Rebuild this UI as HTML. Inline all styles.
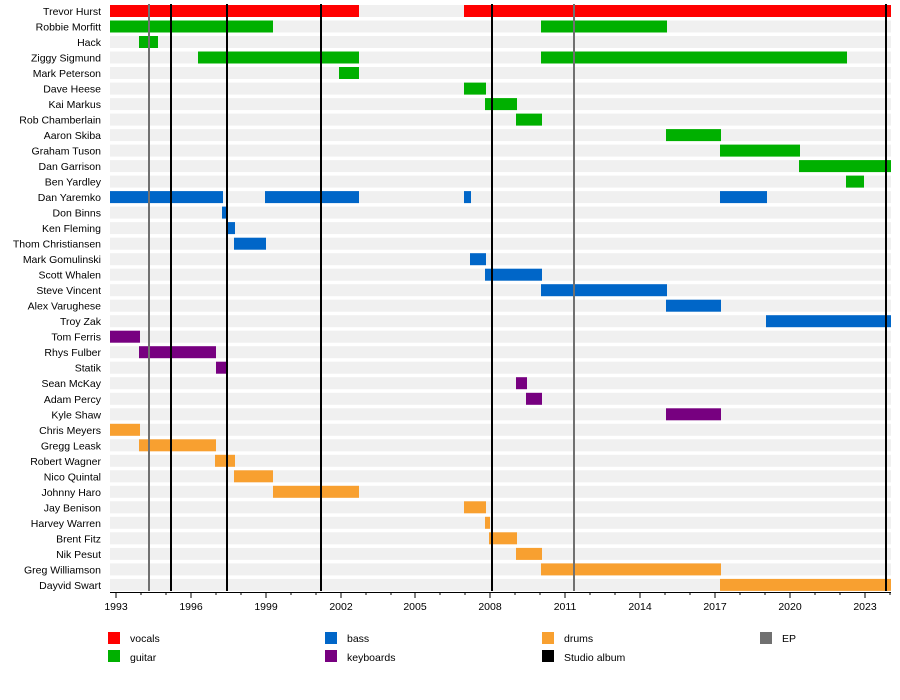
<!DOCTYPE html>
<html><head><meta charset="utf-8"><style>
body{margin:0;background:#fff}
svg{display:block;font-family:"Liberation Sans",Arial,sans-serif}
.l{font-size:10.5px;text-anchor:end;fill:#000}
.s{fill:#f0f0f0}
.v{fill:#ff0000}.g{fill:#00b000}.b{fill:#0066c8}.k{fill:#770080}.d{fill:#f8a030}
</style></head><body>
<svg width="900" height="700" viewBox="0 0 900 700">
<g id="rows">
<g transform="translate(0,11)"><rect class="s" x="110" y="-6" width="781" height="12"/><text class="l" x="101" y="4">Trevor Hurst</text><rect class="v" x="110" y="-6" width="249" height="12"/><rect class="v" x="464" y="-6" width="427" height="12"/></g>
<g transform="translate(0,26.5)"><rect class="s" x="110" y="-6" width="781" height="12"/><text class="l" x="101" y="4">Robbie Morfitt</text><rect class="g" x="110" y="-6" width="163" height="12"/><rect class="g" x="541" y="-6" width="126" height="12"/></g>
<g transform="translate(0,42)"><rect class="s" x="110" y="-6" width="781" height="12"/><text class="l" x="101" y="4">Hack</text><rect class="g" x="139" y="-6" width="19" height="12"/></g>
<g transform="translate(0,57.5)"><rect class="s" x="110" y="-6" width="781" height="12"/><text class="l" x="101" y="4">Ziggy Sigmund</text><rect class="g" x="198" y="-6" width="161" height="12"/><rect class="g" x="541" y="-6" width="306" height="12"/></g>
<g transform="translate(0,73)"><rect class="s" x="110" y="-6" width="781" height="12"/><text class="l" x="101" y="4">Mark Peterson</text><rect class="g" x="339" y="-6" width="20" height="12"/></g>
<g transform="translate(0,88.6)"><rect class="s" x="110" y="-6" width="781" height="12"/><text class="l" x="101" y="4">Dave Heese</text><rect class="g" x="464" y="-6" width="22" height="12"/></g>
<g transform="translate(0,104.1)"><rect class="s" x="110" y="-6" width="781" height="12"/><text class="l" x="101" y="4">Kai Markus</text><rect class="g" x="485" y="-6" width="32" height="12"/></g>
<g transform="translate(0,119.6)"><rect class="s" x="110" y="-6" width="781" height="12"/><text class="l" x="101" y="4">Rob Chamberlain</text><rect class="g" x="516" y="-6" width="26" height="12"/></g>
<g transform="translate(0,135.1)"><rect class="s" x="110" y="-6" width="781" height="12"/><text class="l" x="101" y="4">Aaron Skiba</text><rect class="g" x="666" y="-6" width="55" height="12"/></g>
<g transform="translate(0,150.6)"><rect class="s" x="110" y="-6" width="781" height="12"/><text class="l" x="101" y="4">Graham Tuson</text><rect class="g" x="720" y="-6" width="80" height="12"/></g>
<g transform="translate(0,166.1)"><rect class="s" x="110" y="-6" width="781" height="12"/><text class="l" x="101" y="4">Dan Garrison</text><rect class="g" x="799" y="-6" width="92" height="12"/></g>
<g transform="translate(0,181.6)"><rect class="s" x="110" y="-6" width="781" height="12"/><text class="l" x="101" y="4">Ben Yardley</text><rect class="g" x="846" y="-6" width="18" height="12"/></g>
<g transform="translate(0,197.1)"><rect class="s" x="110" y="-6" width="781" height="12"/><text class="l" x="101" y="4">Dan Yaremko</text><rect class="b" x="110" y="-6" width="113" height="12"/><rect class="b" x="265" y="-6" width="94" height="12"/><rect class="b" x="464" y="-6" width="7" height="12"/><rect class="b" x="720" y="-6" width="47" height="12"/></g>
<g transform="translate(0,212.6)"><rect class="s" x="110" y="-6" width="781" height="12"/><text class="l" x="101" y="4">Don Binns</text><rect class="b" x="222" y="-6" width="6" height="12"/></g>
<g transform="translate(0,228.1)"><rect class="s" x="110" y="-6" width="781" height="12"/><text class="l" x="101" y="4">Ken Fleming</text><rect class="b" x="227" y="-6" width="8" height="12"/></g>
<g transform="translate(0,243.7)"><rect class="s" x="110" y="-6" width="781" height="12"/><text class="l" x="101" y="4">Thom Christiansen</text><rect class="b" x="234" y="-6" width="32" height="12"/></g>
<g transform="translate(0,259.2)"><rect class="s" x="110" y="-6" width="781" height="12"/><text class="l" x="101" y="4">Mark Gomulinski</text><rect class="b" x="470" y="-6" width="16" height="12"/></g>
<g transform="translate(0,274.7)"><rect class="s" x="110" y="-6" width="781" height="12"/><text class="l" x="101" y="4">Scott Whalen</text><rect class="b" x="485" y="-6" width="57" height="12"/></g>
<g transform="translate(0,290.2)"><rect class="s" x="110" y="-6" width="781" height="12"/><text class="l" x="101" y="4">Steve Vincent</text><rect class="b" x="541" y="-6" width="126" height="12"/></g>
<g transform="translate(0,305.7)"><rect class="s" x="110" y="-6" width="781" height="12"/><text class="l" x="101" y="4">Alex Varughese</text><rect class="b" x="666" y="-6" width="55" height="12"/></g>
<g transform="translate(0,321.2)"><rect class="s" x="110" y="-6" width="781" height="12"/><text class="l" x="101" y="4">Troy Zak</text><rect class="b" x="766" y="-6" width="125" height="12"/></g>
<g transform="translate(0,336.7)"><rect class="s" x="110" y="-6" width="781" height="12"/><text class="l" x="101" y="4">Tom Ferris</text><rect class="k" x="110" y="-6" width="30" height="12"/></g>
<g transform="translate(0,352.2)"><rect class="s" x="110" y="-6" width="781" height="12"/><text class="l" x="101" y="4">Rhys Fulber</text><rect class="k" x="139" y="-6" width="77" height="12"/></g>
<g transform="translate(0,367.7)"><rect class="s" x="110" y="-6" width="781" height="12"/><text class="l" x="101" y="4">Statik</text><rect class="k" x="216" y="-6" width="11" height="12"/></g>
<g transform="translate(0,383.2)"><rect class="s" x="110" y="-6" width="781" height="12"/><text class="l" x="101" y="4">Sean McKay</text><rect class="k" x="516" y="-6" width="11" height="12"/></g>
<g transform="translate(0,398.8)"><rect class="s" x="110" y="-6" width="781" height="12"/><text class="l" x="101" y="4">Adam Percy</text><rect class="k" x="526" y="-6" width="16" height="12"/></g>
<g transform="translate(0,414.3)"><rect class="s" x="110" y="-6" width="781" height="12"/><text class="l" x="101" y="4">Kyle Shaw</text><rect class="k" x="666" y="-6" width="55" height="12"/></g>
<g transform="translate(0,429.8)"><rect class="s" x="110" y="-6" width="781" height="12"/><text class="l" x="101" y="4">Chris Meyers</text><rect class="d" x="110" y="-6" width="30" height="12"/></g>
<g transform="translate(0,445.3)"><rect class="s" x="110" y="-6" width="781" height="12"/><text class="l" x="101" y="4">Gregg Leask</text><rect class="d" x="139" y="-6" width="77" height="12"/></g>
<g transform="translate(0,460.8)"><rect class="s" x="110" y="-6" width="781" height="12"/><text class="l" x="101" y="4">Robert Wagner</text><rect class="d" x="215" y="-6" width="20" height="12"/></g>
<g transform="translate(0,476.3)"><rect class="s" x="110" y="-6" width="781" height="12"/><text class="l" x="101" y="4">Nico Quintal</text><rect class="d" x="234" y="-6" width="39" height="12"/></g>
<g transform="translate(0,491.8)"><rect class="s" x="110" y="-6" width="781" height="12"/><text class="l" x="101" y="4">Johnny Haro</text><rect class="d" x="273" y="-6" width="86" height="12"/></g>
<g transform="translate(0,507.3)"><rect class="s" x="110" y="-6" width="781" height="12"/><text class="l" x="101" y="4">Jay Benison</text><rect class="d" x="464" y="-6" width="22" height="12"/></g>
<g transform="translate(0,522.8)"><rect class="s" x="110" y="-6" width="781" height="12"/><text class="l" x="101" y="4">Harvey Warren</text><rect class="d" x="485" y="-6" width="5" height="12"/></g>
<g transform="translate(0,538.3)"><rect class="s" x="110" y="-6" width="781" height="12"/><text class="l" x="101" y="4">Brent Fitz</text><rect class="d" x="489" y="-6" width="28" height="12"/></g>
<g transform="translate(0,553.9)"><rect class="s" x="110" y="-6" width="781" height="12"/><text class="l" x="101" y="4">Nik Pesut</text><rect class="d" x="516" y="-6" width="26" height="12"/></g>
<g transform="translate(0,569.4)"><rect class="s" x="110" y="-6" width="781" height="12"/><text class="l" x="101" y="4">Greg Williamson</text><rect class="d" x="541" y="-6" width="180" height="12"/></g>
<g transform="translate(0,584.9)"><rect class="s" x="110" y="-6" width="781" height="12"/><text class="l" x="101" y="4">Dayvid Swart</text><rect class="d" x="720" y="-6" width="171" height="12"/></g>
</g>
<g stroke-width="2">
<line x1="149" y1="4" x2="149" y2="591" stroke="#707070"/>
<line x1="574" y1="4" x2="574" y2="591" stroke="#707070"/>
<line x1="171" y1="4" x2="171" y2="591" stroke="#000"/>
<line x1="227" y1="4" x2="227" y2="591" stroke="#000"/>
<line x1="321" y1="4" x2="321" y2="591" stroke="#000"/>
<line x1="492" y1="4" x2="492" y2="591" stroke="#000"/>
<line x1="886" y1="4" x2="886" y2="591" stroke="#000"/>
</g>
<g stroke="#000" stroke-width="1">
<line x1="110" y1="592.5" x2="891" y2="592.5"/>
<path d="M116 592v6M141 592v3M166 592v3M191 592v6M216 592v3M241 592v3M266 592v6M291 592v3M316 592v3M341 592v6M366 592v3M391 592v3M415 592v6M440 592v3M465 592v3M490 592v6M515 592v3M540 592v3M565 592v6M590 592v3M615 592v3M640 592v6M665 592v3M690 592v3M715 592v6M740 592v3M765 592v3M790 592v6M815 592v3M840 592v3M865 592v6M890 592v3"/>
</g>
<g font-size="10.5" text-anchor="middle" fill="#000">
<text x="116" y="610">1993</text><text x="191" y="610">1996</text><text x="266" y="610">1999</text><text x="341" y="610">2002</text><text x="415" y="610">2005</text><text x="490" y="610">2008</text><text x="565" y="610">2011</text><text x="640" y="610">2014</text><text x="715" y="610">2017</text><text x="790" y="610">2020</text><text x="865" y="610">2023</text>
</g>
<g font-size="10.5" fill="#000">
<rect x="108" y="632" width="12" height="12" fill="#ff0000"/><text x="130" y="642">vocals</text>
<rect x="108" y="650" width="12" height="12" fill="#00b000"/><text x="130" y="661">guitar</text>
<rect x="325" y="632" width="12" height="12" fill="#0066c8"/><text x="347" y="642">bass</text>
<rect x="325" y="650" width="12" height="12" fill="#770080"/><text x="347" y="661">keyboards</text>
<rect x="542" y="632" width="12" height="12" fill="#f8a030"/><text x="564" y="642">drums</text>
<rect x="542" y="650" width="12" height="12" fill="#000"/><text x="564" y="661">Studio album</text>
<rect x="760" y="632" width="12" height="12" fill="#707070"/><text x="782" y="642">EP</text>
</g>
</svg>
</body></html>
